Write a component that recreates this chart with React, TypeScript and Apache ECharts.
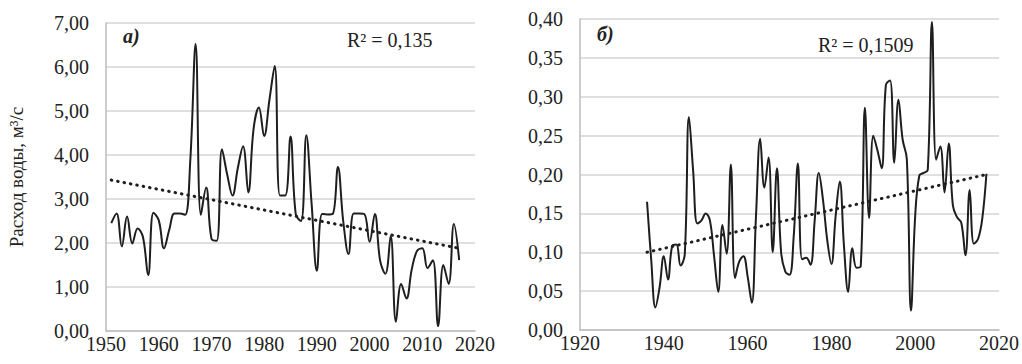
import React, { useEffect, useRef } from "react";
import * as echarts from "echarts";

// ---- Data ----
const leftStartYear = 1951;
const leftValues = [
  2.45, 2.67, 1.92, 2.6, 1.99, 2.33, 2.14, 1.27, 2.69, 2.52,
  1.88, 2.3, 2.67, 2.67, 2.64, 3.9, 6.52, 2.64, 3.26, 2.1,
  2.05, 4.13, 3.55, 3.08, 3.7, 4.2, 3.15, 4.6, 5.08, 4.43,
  5.25, 6.02, 3.08, 3.08, 4.42, 2.65, 2.5, 4.45, 2.9, 1.37,
  2.66, 2.65, 2.66, 3.73, 2.5, 1.75, 2.67, 2.67, 2.66, 2.03,
  2.66, 1.6, 1.3, 2.16, 0.21, 1.07, 0.74, 1.4, 1.82, 1.88,
  1.43, 1.61, 0.11, 1.5, 1.07, 2.43, 1.61,
];
const leftTrendYears = [1951, 2017];
const leftTrendValues = [3.43, 1.88];
const leftR2 = "R² = 0,135";
const leftPanel = "а)";

const rightStartYear = 1936;
const rightValues = [
  0.165, 0.09, 0.029, 0.055, 0.095, 0.065, 0.108, 0.11, 0.083, 0.097,
  0.274, 0.205, 0.137, 0.141, 0.15, 0.141, 0.095, 0.049, 0.135, 0.098,
  0.213, 0.067, 0.088, 0.095, 0.069, 0.035, 0.146, 0.246, 0.183, 0.222,
  0.1, 0.208, 0.1, 0.075, 0.071, 0.12, 0.214, 0.091, 0.093, 0.084,
  0.14, 0.202, 0.167, 0.116, 0.085, 0.146, 0.191, 0.108, 0.049, 0.105,
  0.08, 0.082, 0.286, 0.144, 0.25, 0.231, 0.208, 0.315, 0.321, 0.215,
  0.296, 0.245, 0.22, 0.025, 0.147, 0.199, 0.202, 0.206, 0.396, 0.219,
  0.236, 0.177, 0.24, 0.16, 0.145, 0.138, 0.096, 0.18, 0.111, 0.117,
  0.143, 0.201,
];
const rightTrendYears = [1936, 2017];
const rightTrendValues = [0.1, 0.2];
const rightR2 = "R² = 0,1509";
const rightPanel = "б)";

const yAxisTitle = "Расход воды, м³/с";

const leftXRange = { min: 1950, max: 2020, interval: 10 };
const leftYRange = { min: 0, max: 7, interval: 1 };
const rightXRange = { min: 1920, max: 2020, interval: 20 };
const rightYRange = { min: 0, max: 0.4, interval: 0.05 };

const FONT = "Liberation Serif";
const TEXT = "#222222";
const GRID = "#d4d4d4";
const AXIS = "#bdbdbd";
const LINE = "#1e1e1e";

const toPairs = (start: number, vals: number[]) => vals.map((v, i) => [start + i, v]);
const zip = (xs: number[], ys: number[]) => xs.map((x, i) => [x, ys[i]]);
const fmt = (v: number) => v.toFixed(2).replace(".", ",");

export default function App() {
  const ref = useRef<HTMLDivElement>(null);
  useEffect(() => {
    document.body.style.margin = "0";
    if (!ref.current) return;
    const chart = echarts.init(ref.current, undefined, { renderer: "svg" });

    const xAxisCommon = {
      type: "value" as const,
      axisLine: { show: true, lineStyle: { color: AXIS, width: 1.5 } },
      axisTick: { show: false },
      splitLine: { show: false },
      axisLabel: {
        color: TEXT,
        fontFamily: FONT,
        fontSize: 20,
        margin: 3,
        formatter: (v: number) => String(v),
      },
    };
    const yAxisCommon = {
      type: "value" as const,
      axisLine: { show: true, lineStyle: { color: AXIS, width: 1.5 } },
      axisTick: { show: false },
      splitLine: { show: true, lineStyle: { color: GRID, width: 1.5 } },
      axisLabel: {
        color: TEXT,
        fontFamily: FONT,
        fontSize: 20,
        margin: 17,
        formatter: (v: number) => fmt(v),
      },
    };

    chart.setOption({
      animation: false,
      backgroundColor: "#ffffff",
      textStyle: { fontFamily: FONT },
      grid: [
        { left: 106, top: 23, width: 369, height: 308 },
        { left: 580, top: 19, width: 420, height: 311 },
      ],
      xAxis: [
        { ...xAxisCommon, gridIndex: 0, ...leftXRange },
        { ...xAxisCommon, gridIndex: 1, ...rightXRange },
      ],
      yAxis: [
        {
          ...yAxisCommon,
          gridIndex: 0,
          ...leftYRange,
          name: yAxisTitle,
          nameLocation: "middle",
          nameRotate: 90,
          nameGap: 80,
          nameTextStyle: { color: TEXT, fontFamily: FONT, fontSize: 19 },
        },
        { ...yAxisCommon, gridIndex: 1, ...rightYRange },
      ],
      series: [
        {
          type: "line",
          xAxisIndex: 0,
          yAxisIndex: 0,
          data: toPairs(leftStartYear, leftValues),
          showSymbol: false,
          symbol: "none",
          smooth: 0.4,
          lineStyle: { color: LINE, width: 2 },
          z: 3,
        },
        {
          type: "line",
          xAxisIndex: 0,
          yAxisIndex: 0,
          data: zip(leftTrendYears, leftTrendValues),
          symbol: "none",
          lineStyle: { color: LINE, width: 3, type: [0.5, 6], cap: "round" },
          z: 4,
        },
        {
          type: "line",
          xAxisIndex: 1,
          yAxisIndex: 1,
          data: toPairs(rightStartYear, rightValues),
          showSymbol: false,
          symbol: "none",
          smooth: 0.4,
          lineStyle: { color: LINE, width: 2 },
          z: 3,
        },
        {
          type: "line",
          xAxisIndex: 1,
          yAxisIndex: 1,
          data: zip(rightTrendYears, rightTrendValues),
          symbol: "none",
          lineStyle: { color: LINE, width: 3, type: [0.5, 6], cap: "round" },
          z: 4,
        },
      ],
      graphic: [
        {
          type: "text",
          x: 123,
          y: 36,
          style: {
            text: leftPanel,
            fill: TEXT,
            font: `italic bold 20px ${FONT}`,
            verticalAlign: "middle",
          },
        },
        {
          type: "text",
          x: 347,
          y: 40,
          style: {
            text: leftR2,
            fill: TEXT,
            font: `20px ${FONT}`,
            verticalAlign: "middle",
          },
        },
        {
          type: "text",
          x: 597,
          y: 34,
          style: {
            text: rightPanel,
            fill: TEXT,
            font: `italic bold 20px ${FONT}`,
            verticalAlign: "middle",
          },
        },
        {
          type: "text",
          x: 818,
          y: 45,
          style: {
            text: rightR2,
            fill: TEXT,
            font: `20px ${FONT}`,
            verticalAlign: "middle",
          },
        },
      ],
    });

    return () => chart.dispose();
  }, []);

  return <div ref={ref} style={{ width: 1022, height: 364 }} />;
}
